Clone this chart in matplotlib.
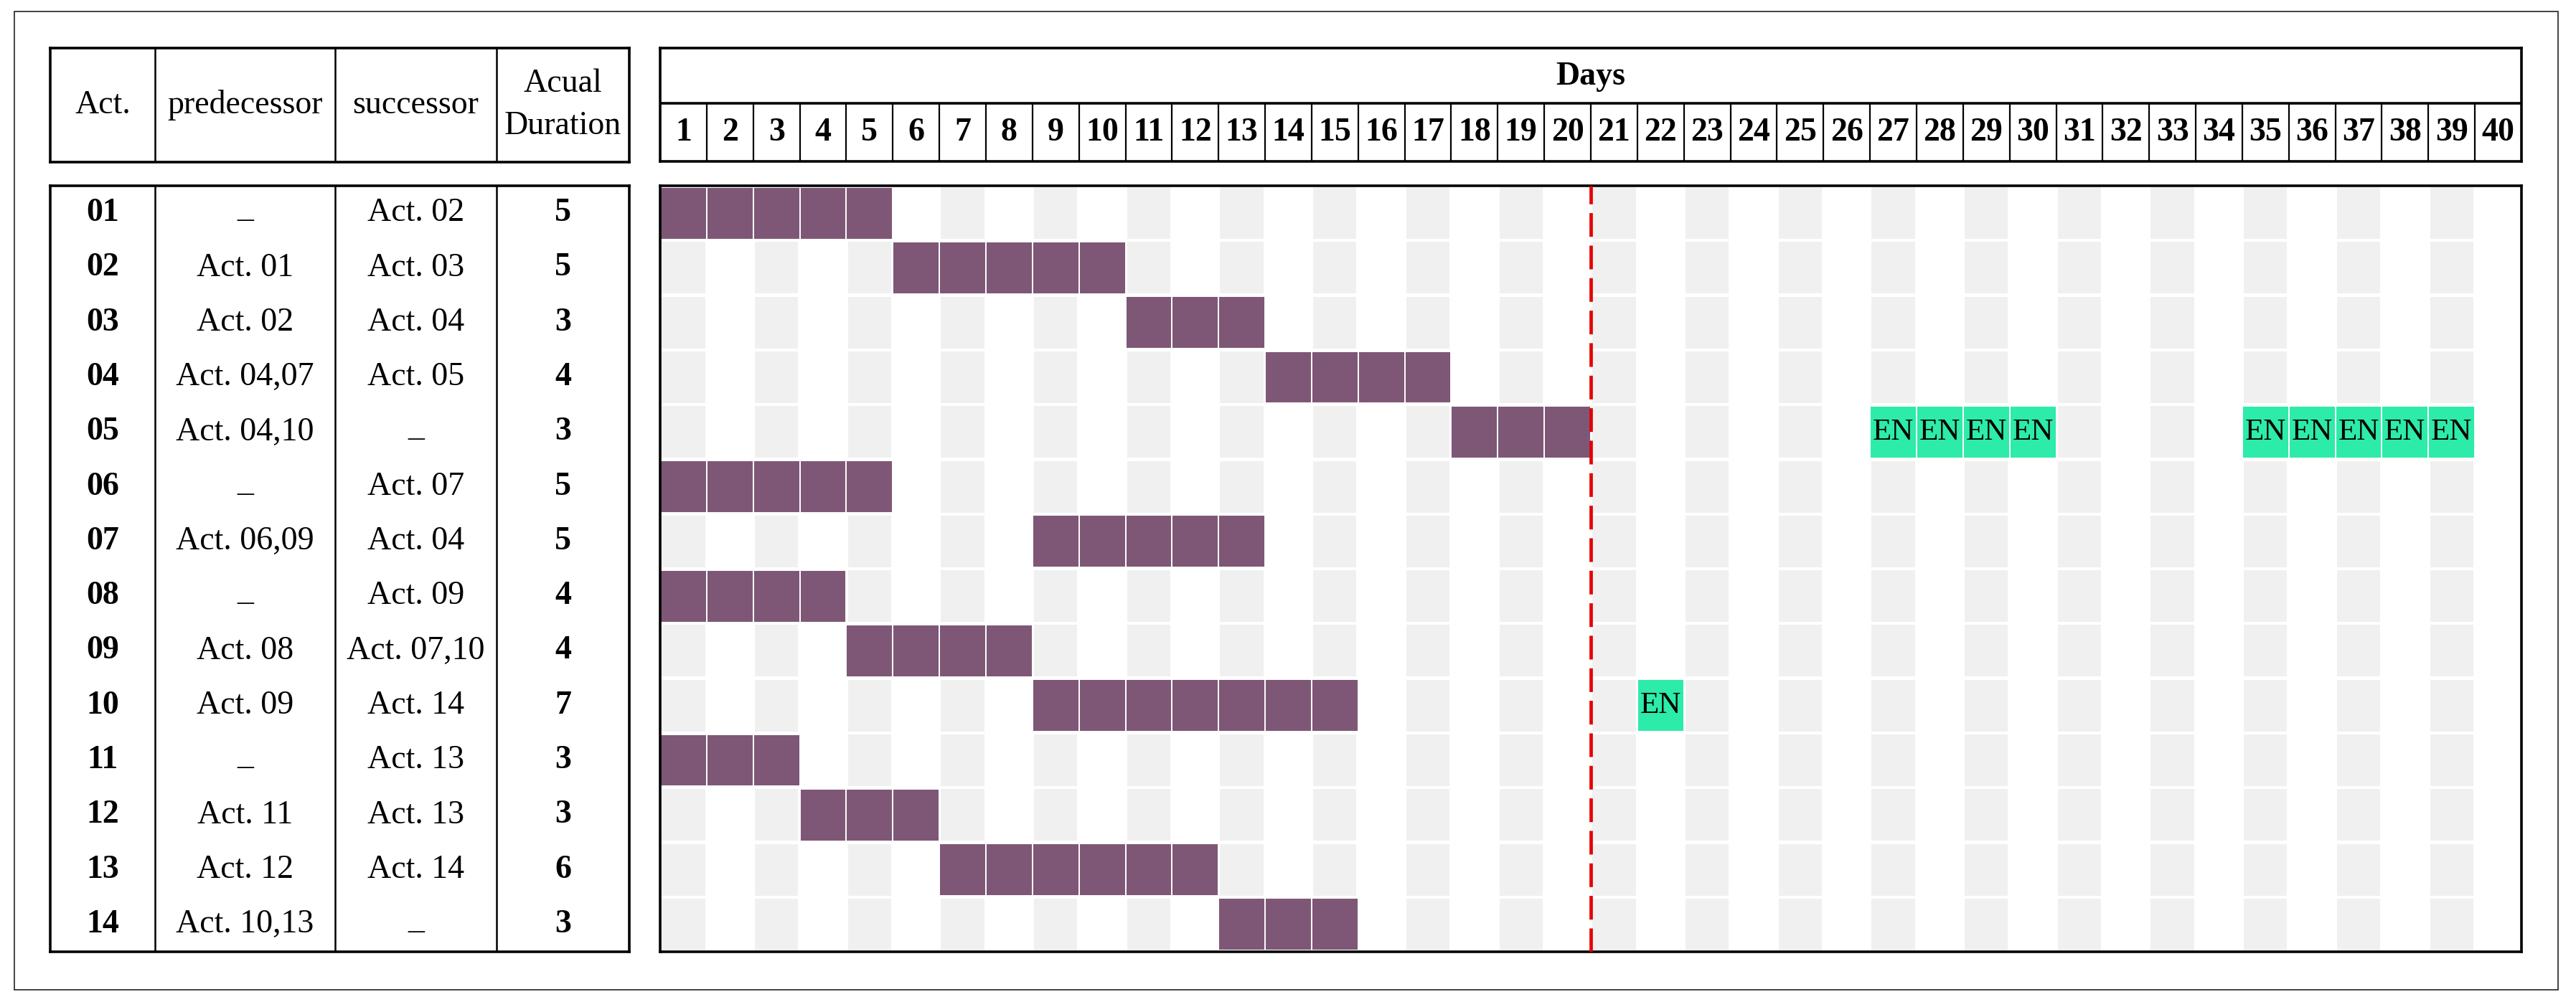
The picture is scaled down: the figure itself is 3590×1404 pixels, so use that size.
import matplotlib.pyplot as plt
from matplotlib.patches import Rectangle

plt.rcParams['font.family'] = ['Liberation Serif', 'DejaVu Serif']

# table data
acts = ['01', '02', '03', '04', '05', '06', '07', '08', '09', '10', '11', '12', '13', '14']
predecessors = ['_', 'Act. 01', 'Act. 02', 'Act. 04,07', 'Act. 04,10', '_', 'Act. 06,09',
                '_', 'Act. 08', 'Act. 09', '_', 'Act. 11', 'Act. 12', 'Act. 10,13']
successors = ['Act. 02', 'Act. 03', 'Act. 04', 'Act. 05', '_', 'Act. 07', 'Act. 04',
              'Act. 09', 'Act. 07,10', 'Act. 14', 'Act. 13', 'Act. 13', 'Act. 14', '_']
durations = [5, 5, 3, 4, 3, 5, 5, 4, 4, 7, 3, 3, 6, 3]
# first day of each activity (1-based)
start_days = [1, 6, 11, 14, 18, 1, 9, 1, 5, 9, 1, 4, 7, 13]
# "EN" cells: activity row index and day (1-based)
en_rows = [4, 4, 4, 4, 4, 4, 4, 4, 4, 9]
en_days = [27, 28, 29, 30, 35, 36, 37, 38, 39, 22]
n_days = 40
today = 20
header_cols = ['Act.', 'predecessor', 'successor', 'Acual\nDuration']

W, H = 3590, 1404
PURPLE = '#7e5776'
GREEN = '#2deba9'
GRAY = '#f0f0f0'
FS = 33
col_w = [146, 251, 225, 185]


def box(x0, y0, x1, y1):
    return [x0 / W, 1 - y1 / H, (x1 - x0) / W, (y1 - y0) / H]


def frame(ax, lw=2.6):
    ax.set_xticks([])
    ax.set_yticks([])
    for s in ax.spines.values():
        s.set_linewidth(lw)
        s.set_color('black')


def cell_text(ax, x, y, t, **kw):
    # the dash placeholder sits on the baseline in the original
    if t == '_':
        y -= 0.08
    ax.text(x, y, t, ha='center', va='center', fontsize=FS, **kw)


def main():
    fig = plt.figure(figsize=(W / 100, H / 100), dpi=100)
    fig.add_artist(Rectangle((20 / W, 1 - 1380 / H), 3545 / W, 1364 / H,
                             transform=fig.transFigure, fill=False, lw=1.2, ec='#222222'))

    n = len(acts)
    edges = [sum(col_w[:i]) for i in range(len(col_w) + 1)]
    centers = [(edges[i] + edges[i + 1]) / 2 for i in range(len(col_w))]

    # left header
    axlh = fig.add_axes(box(70, 67, 877, 226))
    axlh.set_xlim(0, edges[-1])
    axlh.set_ylim(1, 0)
    frame(axlh)
    axlh.vlines(edges[1:-1], 0, 1, color='black', lw=1.8)
    for c, t in zip(centers, header_cols):
        axlh.text(c, 0.5, t, ha='center', va='center', fontsize=FS, linespacing=1.5)

    # left body
    axlb = fig.add_axes(box(70, 259, 877, 1327))
    axlb.set_xlim(0, edges[-1])
    axlb.set_ylim(n, 0)
    frame(axlb)
    axlb.vlines(edges[1:-1], 0, n, color='black', lw=1.8)
    for i in range(n):
        y = i + 0.5
        cell_text(axlb, centers[0], y, acts[i], fontweight='bold')
        cell_text(axlb, centers[1], y, predecessors[i])
        cell_text(axlb, centers[2], y, successors[i])
        cell_text(axlb, centers[3], y, str(durations[i]), fontweight='bold')

    # day header
    axh = fig.add_axes(box(920, 67, 3514, 225))
    axh.set_xlim(0, n_days)
    axh.set_ylim(2, 0)
    frame(axh)
    axh.axhline(0.98, color='black', lw=2.6)
    axh.vlines(range(1, n_days), 0.98, 2, color='black', lw=1.6)
    axh.text(n_days / 2, 0.5, 'Days', ha='center', va='center', fontsize=FS, fontweight='bold')
    for d in range(1, n_days + 1):
        axh.text(d - 0.5, 1.5, str(d), ha='center', va='center', fontsize=FS, fontweight='bold')

    # gantt body
    ax = fig.add_axes(box(920, 259, 3514, 1327))
    ax.set_xlim(0, n_days)
    ax.set_ylim(n, 0)
    frame(ax)
    odd_days = list(range(1, n_days + 1, 2))
    for i in range(n):
        ax.barh([i + 0.5] * len(odd_days), 0.93, left=[d - 1 + 0.035 for d in odd_days],
                height=0.945, color=GRAY, lw=0)
    for i in range(n):
        days = list(range(start_days[i], start_days[i] + durations[i]))
        ax.barh([i + 0.5] * len(days), 1, left=[d - 1 for d in days], height=0.955,
                color=PURPLE, edgecolor='white', lw=1.4)
    ax.barh([r + 0.5 for r in en_rows], 1, left=[d - 1 for d in en_days], height=0.955,
            color=GREEN, edgecolor='white', lw=1.4)
    for r, d in zip(en_rows, en_days):
        ax.text(d - 0.5, r + 0.5, 'EN', ha='center', va='center', fontsize=31)
    ax.axvline(today, color='#e30000', lw=3.4, linestyle=(0, (7, 2.6)), zorder=5)

    plt.savefig('out.png', dpi=100)


if __name__ == '__main__':
    main()
